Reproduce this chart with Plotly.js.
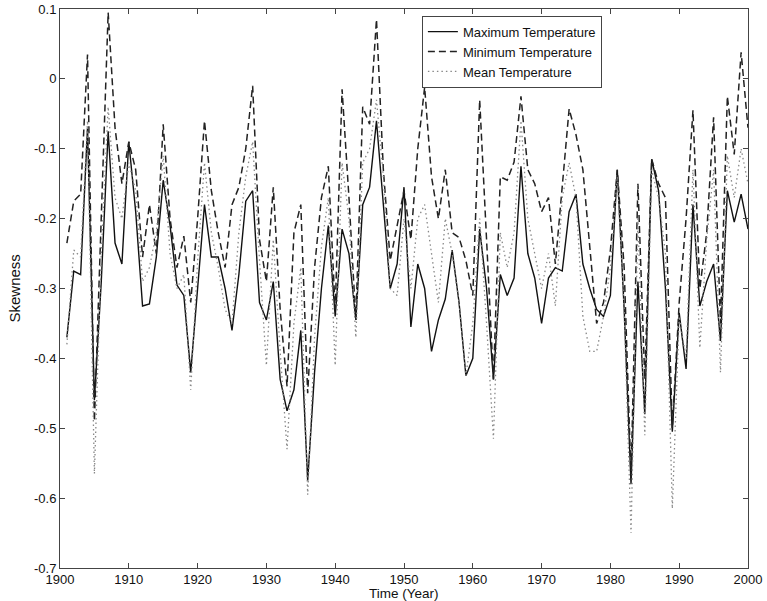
<!DOCTYPE html>
<html>
<head>
<meta charset="utf-8">
<script src="https://cdn.plot.ly/plotly-3.0.1.min.js"></script>
<style>
  html, body { margin: 0; padding: 0; background: #fff; }
  #chart { width: 767px; height: 601px; }
</style>
</head>
<body>
<div id="chart"></div>
<script>
// Annual skewness of daily temperature, 1901-2000
const years = [];
for (let y = 1901; y <= 2000; y++) years.push(y);

const maxTemp = [
  -0.370, -0.275, -0.280, -0.070, -0.460, -0.290, -0.075, -0.235, -0.265, -0.090,
  -0.190, -0.325, -0.322, -0.255, -0.145, -0.210, -0.295, -0.310, -0.420, -0.300,
  -0.180, -0.255, -0.255, -0.300, -0.360, -0.280, -0.175, -0.160, -0.320, -0.345,
  -0.290, -0.430, -0.475, -0.445, -0.360, -0.575, -0.420, -0.300, -0.210, -0.340,
  -0.215, -0.250, -0.345, -0.180, -0.155, -0.060, -0.180, -0.300, -0.265, -0.155,
  -0.355, -0.265, -0.300, -0.390, -0.345, -0.315, -0.245, -0.320, -0.425, -0.400,
  -0.215, -0.300, -0.430, -0.280, -0.310, -0.285, -0.125, -0.250, -0.285, -0.350,
  -0.285, -0.270, -0.275, -0.190, -0.165, -0.265, -0.300, -0.330, -0.340, -0.310,
  -0.130, -0.330, -0.580, -0.290, -0.480, -0.115, -0.160, -0.300, -0.505, -0.335,
  -0.415, -0.180, -0.325, -0.290, -0.265, -0.375, -0.160, -0.205, -0.165, -0.215
];

const minTemp = [
  -0.235, -0.175, -0.165,  0.035, -0.490, -0.200,  0.095, -0.070, -0.150, -0.090,
  -0.130, -0.255, -0.180, -0.250, -0.065, -0.200, -0.270, -0.225, -0.320, -0.200,
  -0.060, -0.160, -0.220, -0.270, -0.180, -0.155, -0.100, -0.010, -0.230, -0.290,
  -0.155, -0.330, -0.440, -0.220, -0.180, -0.450, -0.270, -0.170, -0.125, -0.330,
  -0.015, -0.170, -0.345, -0.040, -0.065,  0.085, -0.130, -0.260, -0.210, -0.160,
  -0.230, -0.100, -0.012, -0.140, -0.200, -0.130, -0.220, -0.227, -0.260, -0.310,
  -0.030, -0.240, -0.430, -0.140, -0.145, -0.119, -0.025, -0.130, -0.150, -0.190,
  -0.170, -0.265, -0.150, -0.043, -0.080, -0.130, -0.240, -0.350, -0.320, -0.245,
  -0.130, -0.270, -0.570, -0.150, -0.430, -0.115, -0.150, -0.170, -0.500, -0.320,
  -0.200, -0.045, -0.300, -0.220, -0.055, -0.350, -0.025, -0.108,  0.038, -0.070
];

const meanTemp = [
  -0.380, -0.245, -0.255, -0.060, -0.565, -0.250, -0.040, -0.170, -0.200, -0.120,
  -0.160, -0.290, -0.270, -0.220, -0.110, -0.250, -0.300, -0.280, -0.445, -0.260,
  -0.120, -0.220, -0.270, -0.330, -0.350, -0.220, -0.140, -0.090, -0.260, -0.410,
  -0.230, -0.390, -0.530, -0.350, -0.270, -0.595, -0.370, -0.240, -0.170, -0.410,
  -0.120, -0.200, -0.370, -0.120, -0.100, -0.030, -0.140, -0.300, -0.310, -0.200,
  -0.300, -0.200, -0.180, -0.250, -0.320, -0.200, -0.250, -0.320, -0.425, -0.350,
  -0.200, -0.350, -0.515, -0.220, -0.270, -0.220, -0.060, -0.200, -0.250, -0.300,
  -0.250, -0.325, -0.170, -0.120, -0.170, -0.340, -0.390, -0.390, -0.340, -0.270,
  -0.140, -0.330, -0.650, -0.200, -0.510, -0.130, -0.170, -0.250, -0.615, -0.340,
  -0.400, -0.130, -0.385, -0.230, -0.130, -0.420, -0.110, -0.170, -0.100, -0.150
];

const seriesNames = ['Maximum Temperature', 'Minimum Temperature', 'Mean Temperature'];

const xTicks = [1900, 1910, 1920, 1930, 1940, 1950, 1960, 1970, 1980, 1990, 2000];
const yTicks = [0.1, 0, -0.1, -0.2, -0.3, -0.4, -0.5, -0.6, -0.7];
const yTickText = ['0.1', '0', '-0.1', '-0.2', '-0.3', '-0.4', '-0.5', '-0.6', '-0.7'];

const FONT = 'Liberation Sans, Arial, Helvetica, sans-serif';

const traces = [
  {
    x: years, y: maxTemp, name: seriesNames[0], type: 'scatter', mode: 'lines',
    line: { color: '#111', width: 1.4, dash: 'solid' }
  },
  {
    x: years, y: minTemp, name: seriesNames[1], type: 'scatter', mode: 'lines',
    line: { color: '#222', width: 1.5, dash: '7px,4px' }
  },
  {
    x: years, y: meanTemp, name: seriesNames[2], type: 'scatter', mode: 'lines',
    line: { color: '#888', width: 1.3, dash: '1.5px,3px' }
  }
];

const axisCommon = {
  showline: true, linecolor: '#444', linewidth: 1,
  mirror: 'ticks', ticks: 'inside', ticklen: 5, tickcolor: '#444', tickwidth: 1,
  showgrid: false, zeroline: false,
  tickfont: { family: FONT, size: 13, color: '#111' }
};

const layout = {
  width: 767, height: 601,
  margin: { l: 60, r: 19, t: 9, b: 33 },
  paper_bgcolor: '#fff', plot_bgcolor: '#fff',
  showlegend: true,
  legend: {
    x: 0.526, y: 0.988, xanchor: 'left', yanchor: 'top',
    bgcolor: '#fff', bordercolor: '#444', borderwidth: 1,
    font: { family: FONT, size: 13, color: '#111' },
    tracegroupgap: 0, itemwidth: 30
  },
  xaxis: Object.assign({}, axisCommon, {
    range: [1900, 2000], tickvals: xTicks, ticklabelstandoff: -1
  }),
  yaxis: Object.assign({}, axisCommon, {
    range: [-0.7, 0.1], tickvals: yTicks, ticktext: yTickText
  }),
  annotations: [
    {
      text: 'Time (Year)', xref: 'paper', yref: 'paper', x: 0.5, y: 0,
      xanchor: 'center', yanchor: 'top', yshift: -16, showarrow: false,
      font: { family: FONT, size: 13.5, color: '#111' }
    },
    {
      text: 'Skewness', xref: 'paper', yref: 'paper', x: 0, y: 0.5,
      xanchor: 'center', yanchor: 'middle', xshift: -46, textangle: -90, showarrow: false,
      font: { family: FONT, size: 15, color: '#111' }
    }
  ]
};

Plotly.newPlot('chart', traces, layout, { staticPlot: true, displayModeBar: false });
</script>
</body>
</html>
